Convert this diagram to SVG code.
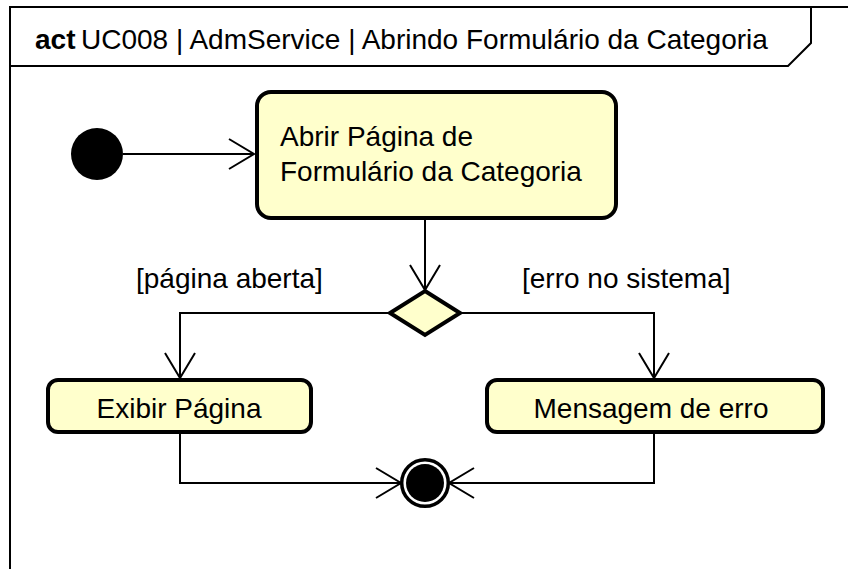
<svg xmlns="http://www.w3.org/2000/svg" width="848" height="569" viewBox="0 0 848 569">
  <style>
    text { font-family: "Liberation Sans", Arial, sans-serif; font-size: 28px; fill: #000; }
    .frame { fill: none; stroke: #000; stroke-width: 2; }
    .action { fill: #FFFFCC; stroke: #000; stroke-width: 4; }
    .edge { fill: none; stroke: #000; stroke-width: 2; }
    .head { fill: none; stroke: #000; stroke-width: 2; }
  </style>
  <defs>
    <marker id="open" markerUnits="userSpaceOnUse" markerWidth="40" markerHeight="40" viewBox="-30 -20 40 40" refX="0" refY="0" orient="auto" overflow="visible">
      <path class="head" d="M-25,-15 L0,0 L-25,15"/>
    </marker>
  </defs>
  <rect width="848" height="569" fill="#fff"/>

  <g id="frame">
    <path class="frame" d="M10,569 L10,7 L848,7"/>
    <path class="frame" d="M10,66 L788,66 L811,43 L811,7"/>
    <text x="35" y="49"><tspan font-weight="bold">act</tspan></text>
    <text x="81" y="49">UC008 | AdmService | Abrindo Formulário da Categoria</text>
  </g>

  <g id="initial">
    <circle cx="97" cy="154" r="26" fill="#000"/>
  </g>

  <g id="abrir">
    <rect class="action" x="257" y="92" width="359" height="126" rx="14" ry="14"/>
    <text x="280" y="146">Abrir Página de</text>
    <text x="280" y="181">Formulário da Categoria</text>
  </g>

  <g id="decision">
    <polygon points="425,291 460,313 425,335 390,313" fill="#FFFFCC" stroke="#000" stroke-width="4" stroke-linejoin="miter"/>
  </g>

  <g id="exibir">
    <rect class="action" x="48" y="380" width="263" height="52" rx="10" ry="10"/>
    <text x="179" y="418" text-anchor="middle">Exibir Página</text>
  </g>

  <g id="mensagem">
    <rect class="action" x="487" y="380" width="336" height="52" rx="10" ry="10"/>
    <text x="651" y="418" text-anchor="middle">Mensagem de erro</text>
  </g>

  <g id="final">
    <circle cx="425" cy="483" r="23.3" fill="#fff" stroke="#000" stroke-width="3.5"/>
    <circle cx="425" cy="483" r="19" fill="#000"/>
  </g>

  <g id="connectors">
    <path class="edge" d="M123,154 L254,154" marker-end="url(#open)"/>
    <path class="edge" d="M425,220 L425,290" marker-end="url(#open)"/>
    <path class="edge" d="M389,313 L180,313 L180,378" marker-end="url(#open)"/>
    <path class="edge" d="M461,313 L654,313 L654,378" marker-end="url(#open)"/>
    <path class="edge" d="M180,434 L180,483 L401,483" marker-end="url(#open)"/>
    <path class="edge" d="M654,434 L654,483 L449,483" marker-end="url(#open)"/>
    <text x="136" y="288">[página aberta]</text>
    <text x="522" y="288">[erro no sistema]</text>
  </g>
</svg>
